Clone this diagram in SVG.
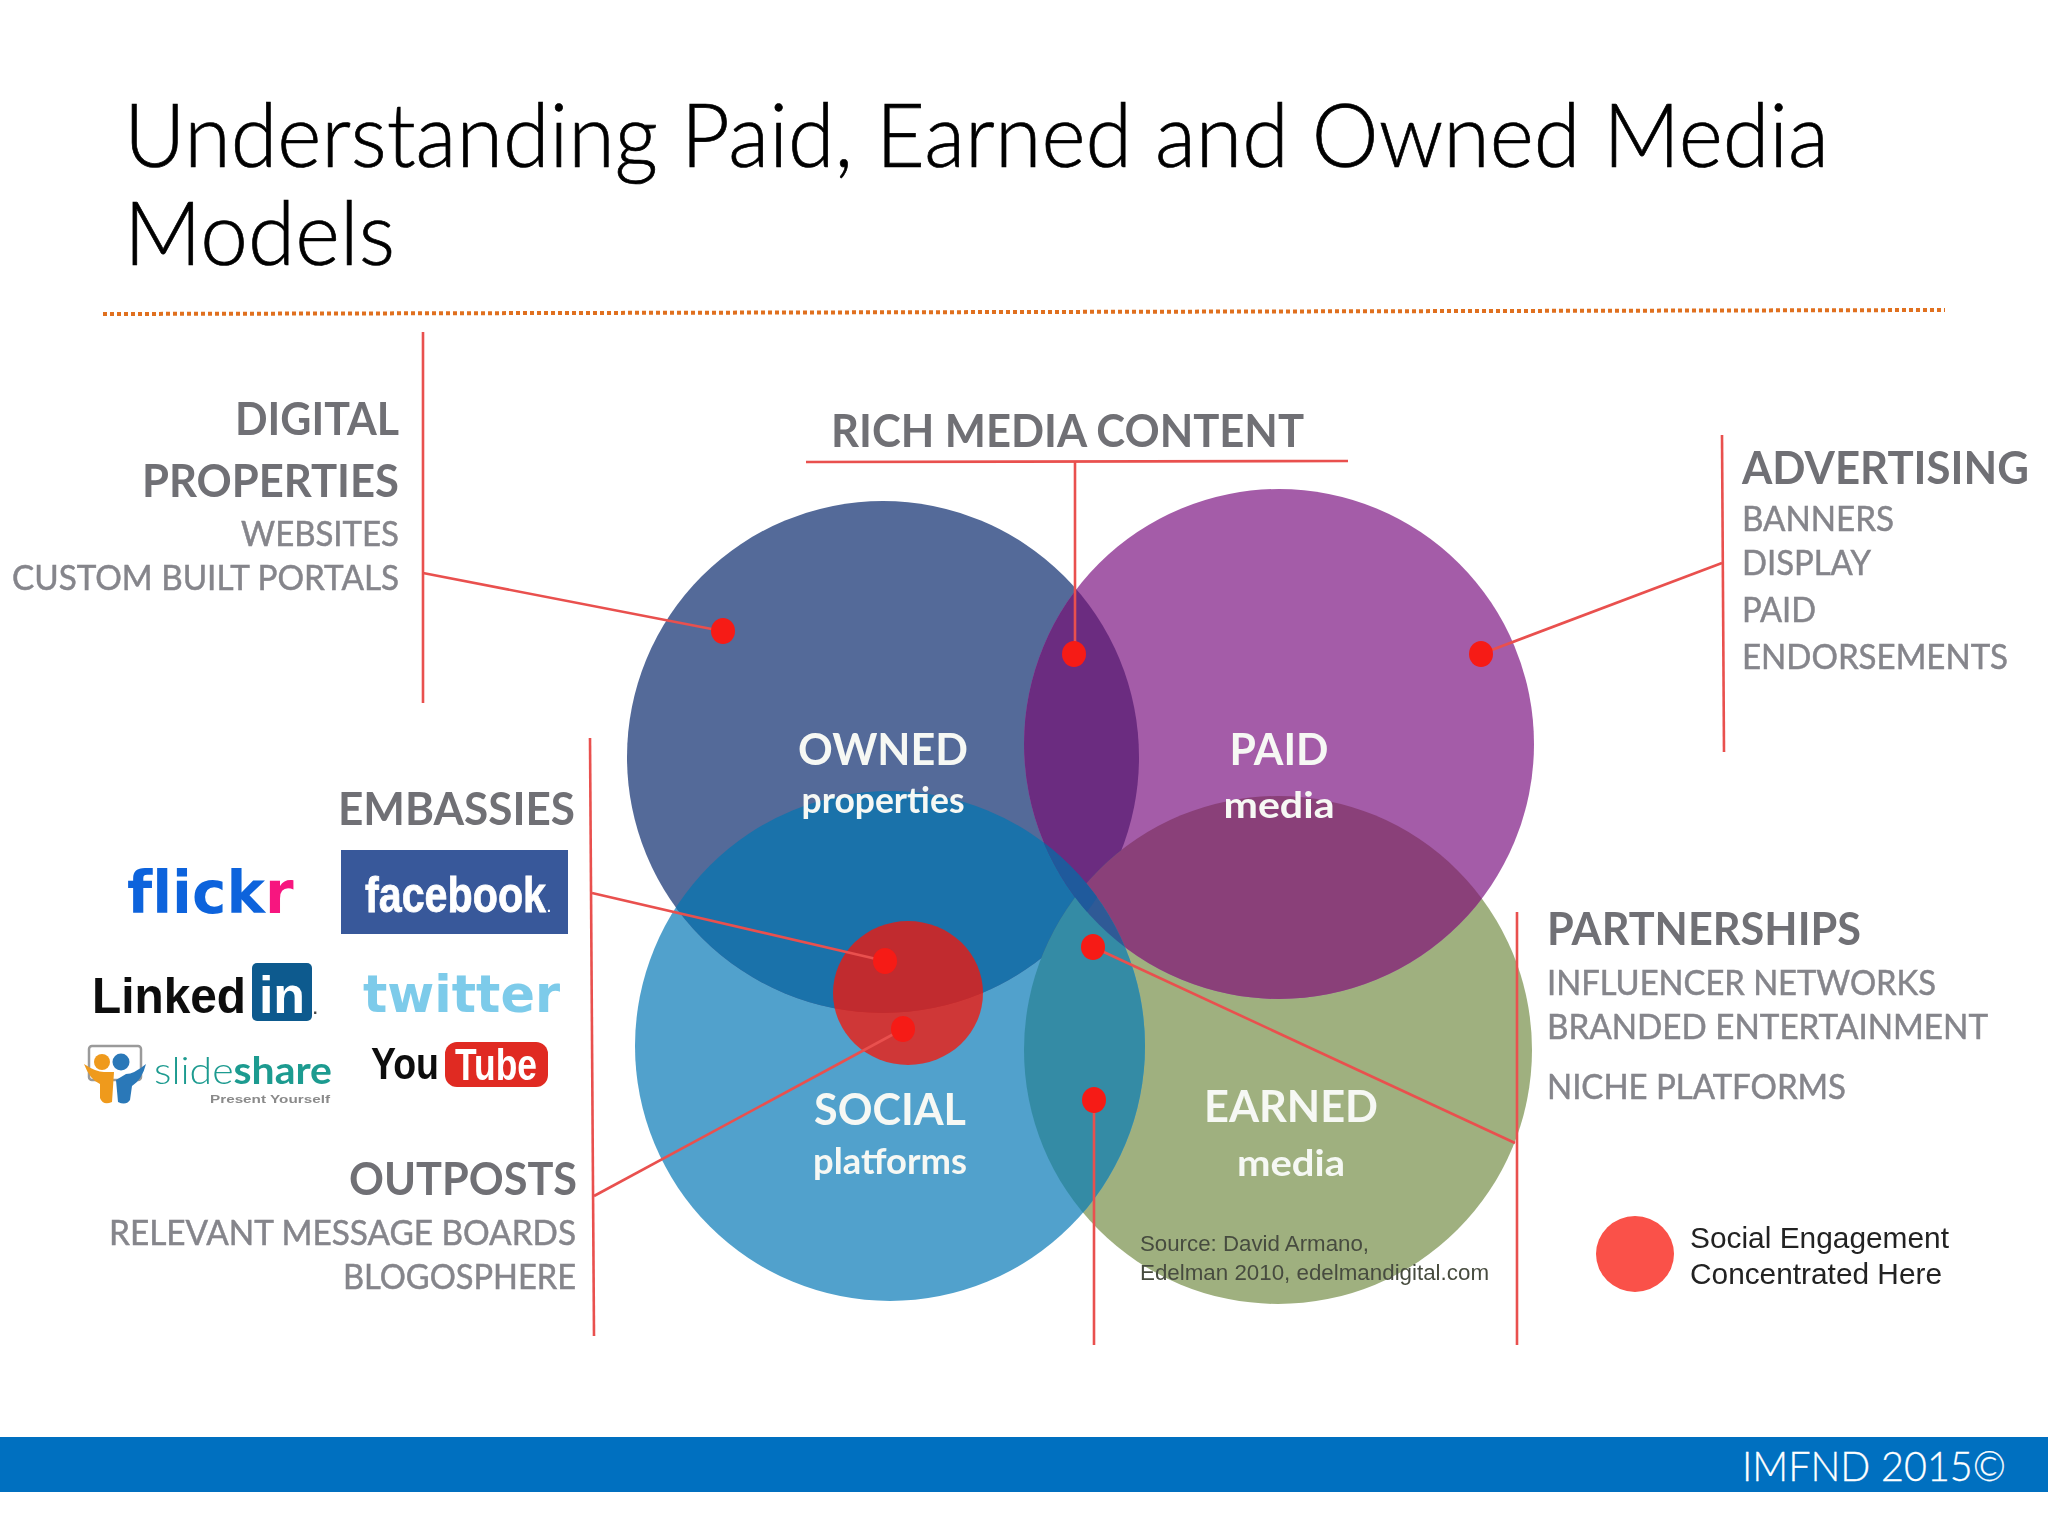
<svg xmlns="http://www.w3.org/2000/svg" width="2048" height="1536" viewBox="0 0 2048 1536">
<style>
text{font-family:"Lato","Open Sans","Liberation Sans",sans-serif}
.title{font-size:88px;font-weight:300;fill:#000;stroke:#000;stroke-width:.7}
.h{font-size:45px;font-weight:700;fill:#6f6f74}
.s{font-size:34px;font-weight:400;fill:#85858b;stroke:#85858b;stroke-width:.5}
.w{font-size:44px;font-weight:700;fill:#f6f8f4;text-anchor:middle}
.w2{font-size:36px;font-weight:700;fill:#f6f8f4;text-anchor:middle}
.ar{font-family:"Liberation Sans",Arial,sans-serif}
.ln{stroke:#e9504e;stroke-width:2.6;fill:none}
.dot{fill:#f61b16}
.lg{font-family:"Liberation Sans",Arial,sans-serif;font-weight:700}
.soft{filter:url(#soft)}
</style>
<defs>
<filter id="soft" x="-5%" y="-5%" width="110%" height="110%"><feGaussianBlur stdDeviation="0.5"/></filter>
<circle id="O" cx="883" cy="757" r="256"/>
<circle id="P" cx="1279" cy="744" r="255"/>
<circle id="S" cx="890" cy="1046" r="255"/>
<circle id="E" cx="1278" cy="1050" r="254"/>
<clipPath id="cO"><use href="#O"/></clipPath>
<clipPath id="cP"><use href="#P"/></clipPath>
<clipPath id="cS"><use href="#S"/></clipPath>
<clipPath id="cE"><use href="#E"/></clipPath>
</defs>
<rect width="2048" height="1536" fill="#fff"/>
<g id="title">
<text class="title" x="124" y="167" textLength="1705" lengthAdjust="spacingAndGlyphs">Understanding Paid, Earned and Owned Media</text>
<text class="title" x="124" y="265" textLength="271" lengthAdjust="spacingAndGlyphs">Models</text>
<line x1="103" y1="314" x2="1945" y2="310" stroke="#e0701f" stroke-width="4" stroke-dasharray="4 3"/>
</g>
<g id="venn">
<use href="#E" fill="#9fb07f"/>
<use href="#S" fill="#51a1cc"/>
<use href="#O" fill="#546a99"/>
<use href="#P" fill="#a45ca8"/>
<g clip-path="url(#cO)"><use href="#S" fill="#1a72aa"/><use href="#P" fill="#6b2c80"/><use href="#E" fill="#3f5a80"/></g>
<g clip-path="url(#cP)"><use href="#E" fill="#8a4079"/></g>
<g clip-path="url(#cS)"><use href="#E" fill="#348ba5"/><use href="#P" fill="#2f5a96"/></g>
<g clip-path="url(#cO)"><g clip-path="url(#cS)"><use href="#P" fill="#1f5a9c"/></g></g>
</g>
<g id="node-owned" class="soft">
<text class="w" x="883" y="765" textLength="170" lengthAdjust="spacingAndGlyphs">OWNED</text>
<text class="w2" x="883" y="813" textLength="163" lengthAdjust="spacingAndGlyphs">properties</text>
</g>
<g id="node-paid" class="soft">
<text class="w" x="1279" y="765" textLength="99" lengthAdjust="spacingAndGlyphs">PAID</text>
<text class="w2" x="1279" y="818" textLength="111" lengthAdjust="spacingAndGlyphs">media</text>
</g>
<g id="node-social" class="soft">
<text class="w" x="890" y="1125" textLength="152" lengthAdjust="spacingAndGlyphs">SOCIAL</text>
<text class="w2" x="890" y="1174" textLength="154" lengthAdjust="spacingAndGlyphs">platforms</text>
</g>
<g id="node-earned" class="soft">
<text class="w" x="1291" y="1122" textLength="174" lengthAdjust="spacingAndGlyphs">EARNED</text>
<text class="w2" x="1291" y="1176" textLength="108" lengthAdjust="spacingAndGlyphs">media</text>
</g>
<g id="node-source" class="soft">
<text class="ar" x="1140" y="1251" font-size="22" fill="#474c3f" textLength="229" lengthAdjust="spacingAndGlyphs">Source: David Armano,</text>
<text class="ar" x="1140" y="1280" font-size="22" fill="#474c3f" textLength="349" lengthAdjust="spacingAndGlyphs">Edelman 2010, edelmandigital.com</text>
</g>
<g id="node-engagement">
<ellipse cx="908" cy="993" rx="75" ry="72" fill="#f91405" fill-opacity=".75"/>
</g>
<g id="connectors">
<path class="ln" d="M423 332V703"/>
<path class="ln" d="M423 573L722 631"/>
<path class="ln" d="M806 462L1348 461"/>
<path class="ln" d="M1075 462V654"/>
<path class="ln" d="M1722 435L1724 752"/>
<path class="ln" d="M1722 563L1481 654"/>
<path class="ln" d="M590 738L594 1336"/>
<path class="ln" d="M592 893L885 961"/>
<path class="ln" d="M594 1196L903 1029"/>
<path class="ln" d="M1093 947L1515 1143"/>
<path class="ln" d="M1094 1100V1345"/>
<path class="ln" d="M1517 912V1345"/>
</g>
<g id="dots">
<ellipse class="dot" cx="723" cy="631" rx="12" ry="13"/>
<ellipse class="dot" cx="1074" cy="654" rx="12" ry="13"/>
<ellipse class="dot" cx="1481" cy="654" rx="12" ry="13"/>
<ellipse class="dot" cx="885" cy="961" rx="12" ry="13"/>
<ellipse class="dot" cx="903" cy="1029" rx="12" ry="13"/>
<ellipse class="dot" cx="1093" cy="947" rx="12" ry="13"/>
<ellipse class="dot" cx="1094" cy="1100" rx="12" ry="13"/>
</g>
<g id="node-digital" class="soft">
<text class="h" x="235" y="435" textLength="164" lengthAdjust="spacingAndGlyphs">DIGITAL</text>
<text class="h" x="142" y="497" textLength="257" lengthAdjust="spacingAndGlyphs">PROPERTIES</text>
<text class="s" x="241" y="546" textLength="158" lengthAdjust="spacingAndGlyphs">WEBSITES</text>
<text class="s" x="12" y="590" textLength="387" lengthAdjust="spacingAndGlyphs">CUSTOM BUILT PORTALS</text>
</g>
<g id="node-rich" class="soft">
<text class="h" x="831" y="447" textLength="473" lengthAdjust="spacingAndGlyphs">RICH MEDIA CONTENT</text>
</g>
<g id="node-advertising" class="soft">
<text class="h" x="1742" y="484" textLength="287" lengthAdjust="spacingAndGlyphs">ADVERTISING</text>
<text class="s" x="1742" y="531" textLength="152" lengthAdjust="spacingAndGlyphs">BANNERS</text>
<text class="s" x="1742" y="575" textLength="129" lengthAdjust="spacingAndGlyphs">DISPLAY</text>
<text class="s" x="1742" y="622" textLength="74" lengthAdjust="spacingAndGlyphs">PAID</text>
<text class="s" x="1742" y="669" textLength="266" lengthAdjust="spacingAndGlyphs">ENDORSEMENTS</text>
</g>
<g id="node-partnerships" class="soft">
<text class="h" x="1547" y="945" textLength="314" lengthAdjust="spacingAndGlyphs">PARTNERSHIPS</text>
<text class="s" x="1547" y="995" textLength="389" lengthAdjust="spacingAndGlyphs">INFLUENCER NETWORKS</text>
<text class="s" x="1547" y="1039" textLength="441" lengthAdjust="spacingAndGlyphs">BRANDED ENTERTAINMENT</text>
<text class="s" x="1547" y="1099" textLength="299" lengthAdjust="spacingAndGlyphs">NICHE PLATFORMS</text>
</g>
<g id="node-embassies" class="soft">
<text class="h" x="338" y="825" textLength="237" lengthAdjust="spacingAndGlyphs">EMBASSIES</text>
</g>
<g id="node-outposts" class="soft">
<text class="h" x="349" y="1195" textLength="228" lengthAdjust="spacingAndGlyphs">OUTPOSTS</text>
<text class="s" x="109" y="1245" textLength="467" lengthAdjust="spacingAndGlyphs">RELEVANT MESSAGE BOARDS</text>
<text class="s" x="343" y="1289" textLength="233" lengthAdjust="spacingAndGlyphs">BLOGOSPHERE</text>
</g>
<g id="logo-flickr" class="soft">
<text class="lg" x="127" y="913" font-size="58" style="font-family:'DejaVu Sans',sans-serif;font-variant-ligatures:none"><tspan fill="#0b63dc">flick</tspan><tspan fill="#f7147f">r</tspan></text>
</g>
<g id="logo-facebook" class="soft">
<rect x="341" y="850" width="227" height="84" fill="#37589a"/>
<text class="lg" x="365" y="912" font-size="50" fill="#fff" stroke="#fff" stroke-width=".8" textLength="181" lengthAdjust="spacingAndGlyphs">facebook</text>
<text class="lg" x="547" y="912" font-size="14" fill="#fff">.</text>
</g>
<g id="logo-linkedin" class="soft">
<text class="lg" x="92" y="1013" font-size="50" fill="#111" textLength="154" lengthAdjust="spacingAndGlyphs">Linked</text>
<rect x="252" y="963" width="60" height="58" rx="5" fill="#0b5a8e"/>
<text class="lg" x="282" y="1013" font-size="52" fill="#fff" text-anchor="middle">in</text>
<text class="lg" x="313" y="1014" font-size="16" fill="#444">.</text>
</g>
<g id="logo-twitter" class="soft">
<text class="lg" x="363" y="1012" font-size="52" fill="#7dcbea" textLength="197" lengthAdjust="spacingAndGlyphs" style="font-family:'DejaVu Sans',sans-serif">twitter</text>
</g>
<g id="logo-slideshare" class="soft">
<rect x="89" y="1046" width="52" height="34" rx="3" fill="none" stroke="#9a9a9a" stroke-width="2.5"/>
<path d="M84 1064Q96 1072 104 1072L114 1072L112 1102Q103 1106 100 1098L100 1084Q90 1080 84 1064Z" fill="#ef9a1c"/>
<path d="M146 1064Q134 1074 126 1074L116 1080L118 1102Q126 1106 130 1100L132 1086Q142 1080 146 1064Z" fill="#2b78b8"/>
<circle cx="102" cy="1062" r="8" fill="#ef9a1c"/><circle cx="121" cy="1062" r="8.500" fill="#2b78b8"/>
<text x="154" y="1084" font-size="38" font-weight="300" fill="#1f9b90" textLength="178" lengthAdjust="spacingAndGlyphs">slide<tspan font-weight="700">share</tspan></text>
<text class="lg" x="210" y="1103" font-size="11.500" fill="#8a8a8a" textLength="120" lengthAdjust="spacingAndGlyphs">Present Yourself</text>
</g>
<g id="logo-youtube" class="soft">
<text class="lg" x="371" y="1079" font-size="44" fill="#111" textLength="68" lengthAdjust="spacingAndGlyphs">You</text>
<rect x="445" y="1042" width="103" height="45" rx="12" fill="#e02a20"/>
<text class="lg" x="496" y="1080" font-size="44" fill="#fff" text-anchor="middle" textLength="82" lengthAdjust="spacingAndGlyphs">Tube</text>
</g>
<g id="node-legend" class="soft">
<ellipse cx="1635" cy="1254" rx="39" ry="38" fill="#fa5148"/>
<text class="ar" x="1690" y="1248" font-size="30" fill="#222" textLength="259" lengthAdjust="spacingAndGlyphs">Social Engagement</text>
<text class="ar" x="1690" y="1284" font-size="30" fill="#222" textLength="252" lengthAdjust="spacingAndGlyphs">Concentrated Here</text>
</g>
<g id="footer">
<rect x="0" y="1437" width="2048" height="55" fill="#0070c0"/>
<text x="1742" y="1481" font-size="42" font-weight="300" fill="#fff" stroke="#fff" stroke-width=".3" textLength="264" lengthAdjust="spacingAndGlyphs">IMFND 2015©</text>
</g>
</svg>
